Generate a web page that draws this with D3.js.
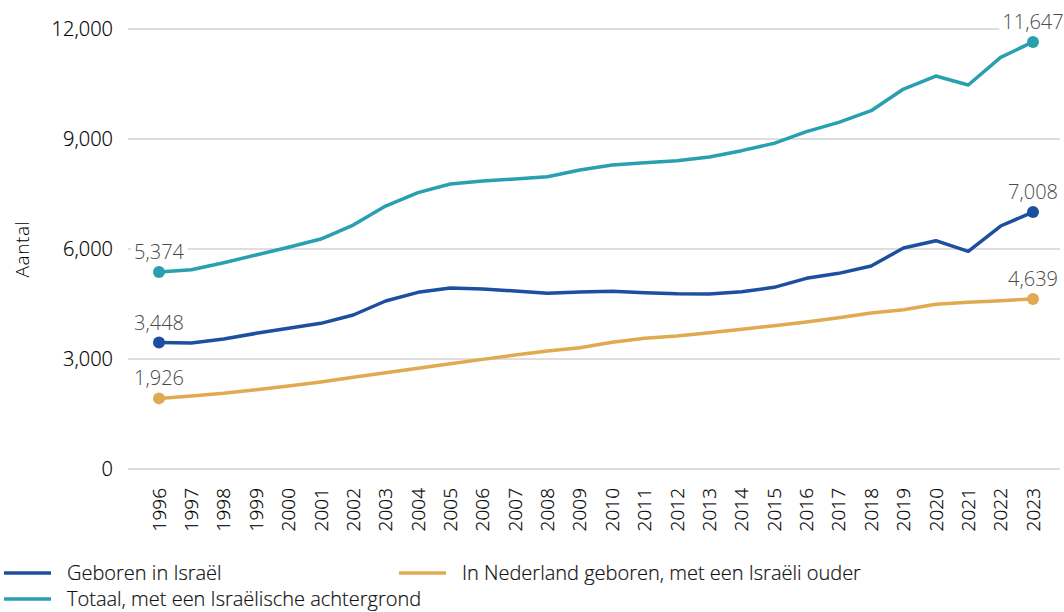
<!DOCTYPE html>
<html>
<head>
<meta charset="utf-8">
<script src="https://cdn.jsdelivr.net/npm/d3@7"></script>
<style>
  body { margin: 0; background: #fff; }
  text { font-family: "Open Sans", sans-serif; font-weight: 300; }
</style>
</head>
<body>
<div id="chart"></div>
<script>
var years = [1996, 1997, 1998, 1999, 2000, 2001, 2002, 2003, 2004, 2005, 2006, 2007, 2008, 2009,
  2010, 2011, 2012, 2013, 2014, 2015, 2016, 2017, 2018, 2019, 2020, 2021, 2022, 2023];

var geborenIsrael = [3448, 3436, 3545, 3700, 3836, 3973, 4200, 4582, 4818, 4936, 4909, 4854, 4790, 4827,
  4845, 4810, 4782, 4775, 4836, 4955, 5200, 5336, 5536, 6027, 6227, 5936, 6627, 7008];

var nederlandGeboren = [1926, 1990, 2064, 2164, 2264, 2373, 2500, 2627, 2745, 2872, 2990, 3109, 3218, 3309,
  3455, 3564, 3627, 3718, 3809, 3909, 4009, 4127, 4254, 4345, 4491, 4545, 4591, 4639];

var totaal = [5374, 5436, 5627, 5836, 6046, 6272, 6654, 7172, 7536, 7772, 7854, 7909, 7972, 8154,
  8291, 8354, 8409, 8509, 8682, 8881, 9200, 9454, 9772, 10363, 10718, 10472, 11227, 11647];

var yTicks = [0, 3000, 6000, 9000, 12000];

var seriesNames = ["Geboren in Israël", "In Nederland geboren, met een Israëli ouder", "Totaal, met een Israëlische achtergrond"];
var seriesColors = ["#1c4fa0", "#e0aa50", "#28a0b0"];

var width = 1064,
	height = 612;

var svg = d3.select("#chart").append("svg")
	.attr("width", width)
	.attr("height", height);

var x = d3.scalePoint().domain(years).range([159, 1033]);
var y = d3.scaleLinear().domain([0, 12000]).range([469, 29]);
var fmt = d3.format(",");

// gridlines + y labels
svg.selectAll(".grid").data(yTicks).enter().append("line")
	.attr("x1", 128).attr("x2", 1060)
	.attr("y1", function(d) { return y(d); })
	.attr("y2", function(d) { return y(d); })
	.attr("stroke", "#bdbdbd")
	.attr("stroke-width", 1);

svg.selectAll(".ylab").data(yTicks).enter().append("text")
	.attr("x", 113)
	.attr("y", function(d) { return y(d); })
	.attr("dy", "0.35em")
	.attr("text-anchor", "end")
	.attr("font-size", 20)
	.attr("fill", "#000")
	.attr("stroke", "#000")
	.attr("stroke-width", 0.2)
	.text(function(d) { return fmt(d); });

svg.append("text")
	.attr("transform", "translate(29,249) rotate(-90)")
	.attr("text-anchor", "middle")
	.attr("font-size", 19)
	.attr("letter-spacing", 0.6)
	.attr("fill", "#000")
	.text("Aantal");

// x labels
svg.selectAll(".xlab").data(years).enter().append("text")
	.attr("transform", function(d) { return "translate(" + x(d) + ",488) rotate(-90)"; })
	.attr("dy", "0.35em")
	.attr("text-anchor", "end")
	.attr("font-size", 19)
	.attr("fill", "#000")
	.attr("stroke", "#000")
	.attr("stroke-width", 0.2)
	.text(function(d) { return d; });

var allSeries = [geborenIsrael, nederlandGeboren, totaal];

var line = d3.line()
	.x(function(d, i) { return x(years[i]); })
	.y(function(d) { return y(d); });

allSeries.forEach(function(vals, s) {
	svg.append("path")
		.attr("d", line(vals))
		.attr("fill", "none")
		.attr("stroke", seriesColors[s])
		.attr("stroke-width", 3.5)
		.attr("stroke-linejoin", "round");

	[0, vals.length - 1].forEach(function(i) {
		var cx = x(years[i]), cy = y(vals[i]);
		svg.append("circle")
			.attr("cx", cx).attr("cy", cy).attr("r", 6)
			.attr("fill", seriesColors[s]);
		var t = svg.append("text")
			.attr("x", cx)
			.attr("y", cy - 13)
			.attr("text-anchor", "middle")
			.attr("font-size", 20)
			.attr("fill", "#4a4a4a")
			.text(fmt(vals[i]));
		var bb = t.node().getBBox();
		svg.insert("rect", function() { return t.node(); })
			.attr("x", bb.x - 3).attr("y", bb.y)
			.attr("width", bb.width + 6).attr("height", bb.height)
			.attr("fill", "#fff");
	});
});

// legend
var legendPos = [[4, 573], [399, 573], [4, 599]];
seriesNames.forEach(function(name, s) {
	var p = legendPos[s];
	svg.append("line")
		.attr("x1", p[0]).attr("x2", p[0] + 47)
		.attr("y1", p[1]).attr("y2", p[1])
		.attr("stroke", seriesColors[s])
		.attr("stroke-width", 3.5);
	svg.append("text")
		.attr("x", p[0] + 63)
		.attr("y", p[1])
		.attr("dy", "0.35em")
		.attr("font-size", 20)
		.attr("fill", "#111")
		.attr("stroke", "#111")
		.attr("stroke-width", 0.2)
		.text(name);
});
</script>
</body>
</html>
